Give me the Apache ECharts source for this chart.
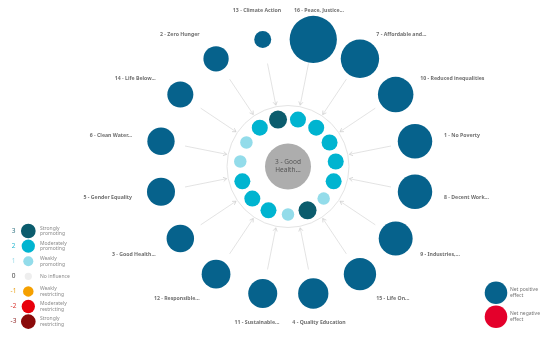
<!DOCTYPE html>
<html>
<head>
<meta charset="utf-8">
<script src="https://cdn.jsdelivr.net/npm/echarts@6/dist/echarts.min.js"></script>
<style>html,body{margin:0;padding:0;background:#fff}#c{width:550px;height:337px}</style>
</head>
<body>
<div id="c"></div>
<script>
// ---- data ----
const centerName = '3 - Good\nHealth...';
const outerNames = ['13 - Climate Action','16 - Peace, Justice...','7 - Affordable and...','10 - Reduced inequalities','1 - No Poverty','8 - Decent Work...','9 - Industries,...','15 - Life On...','4 - Quality Education','11 - Sustainable...','12 - Responsible...','3 - Good Health...','5 - Gender Equality','6 - Clean Water...','14 - Life Below...','2 - Zero Hunger'];
const outerNet = [8, 62, 41, 35, 33, 33, 32, 29, 25.5, 23.4, 23, 21, 21.8, 20.7, 18.8, 17.8];
const innerEffects = [3,2,2,2,2,2,1,3,1,2,2,2,1,1,2];
const legendLevels = [3,2,1,0,-1,-2,-3];
const legendTexts = ['Strongly\npromoting','Moderately\npromoting','Weakly\npromoting','No influence','Weakly\nrestricting','Moderately\nrestricting','Strongly\nrestricting'];
const netLegend = ['Net positive\neffect','Net negative\neffect'];

// ---- styles ----
const FONT = 'Noto Sans';
const effectColor = {'3':'#0b5c6d','2':'#00b4d0','1':'#93dcea','0':'#eeeeee','-1':'#f5a000','-2':'#e8000b','-3':'#8a0a0a'};
const effectNumColor = {'3':'#2c6f7e','2':'#22b5cf','1':'#9adbe8','0':'#444','-1':'#e8a21a','-2':'#d9302a','-3':'#8a1a1a'};
const effectSize = {'3':18,'2':16,'1':12.5};
const legendSize = {'3':14.7,'2':13.3,'1':10,'0':7.3,'-1':10.5,'-2':13.3,'-3':14.7};
const POS = '#06628c', NEG = '#e4002b';

const R_OUT = 129.5, R_LAB = 159, R_IN = 48, R_RING = 61, R_A0 = 105, R_A1 = 62.5;
const norm = a => ((a % 360) + 360) % 360;
const outStep = 360 / outerNames.length, inStep = 360 / innerEffects.length;
const outAngle = i => norm(-outStep / 2 + outStep * i);
const inAngle = i => norm(-inStep / 2 + inStep * i);

const outerData = outerNames.map((n, i) => ({name: n, value: [R_OUT, outAngle(i), outerNet[i]]}));
const labelData = outerNames.map((n, i) => {
  const a = outAngle(i);
  let align = 'center';
  if (a > 20 && a < 160) align = 'left';
  else if (a > 200 && a < 340) align = 'right';
  return {name: n, value: [R_LAB, a], label: {align: align}};
});
const innerData = innerEffects.map((e, i) => ({value: [R_IN, inAngle(i), e], itemStyle: {color: effectColor[String(e)], opacity: 1}}));
const arrowData = outerNames.map((n, i) => [R_A0, outAngle(i), R_A1]);

const chart = echarts.init(document.getElementById('c'));

const graphics = [];
legendLevels.forEach((lv, i) => {
  const y = 231 + i * 15.1;
  graphics.push({type:'text', x: 13.5, y: y, style:{text: String(lv), fill: effectNumColor[String(lv)], font: '6.5px "Noto Sans"', textAlign:'center', textVerticalAlign:'middle'}});
  graphics.push({type:'circle', shape:{cx: 28.3, cy: y, r: legendSize[String(lv)]/2}, style:{fill: effectColor[String(lv)]}});
  graphics.push({type:'text', x: 40, y: y, style:{text: legendTexts[i], fill:'#8a8a8a', font:'5px "Noto Sans"', textAlign:'left', textVerticalAlign:'middle', lineHeight: 5.8}});
});
[POS, NEG].forEach((c, i) => {
  const y = 292.7 + i * 24;
  graphics.push({type:'circle', shape:{cx: 496, cy: y, r: 11.3}, style:{fill: c}});
  graphics.push({type:'text', x: 510, y: y, style:{text: netLegend[i], fill:'#777', font:'5px "Noto Sans"', textAlign:'left', textVerticalAlign:'middle', lineHeight: 6}});
});

chart.setOption({
  animation: false,
  backgroundColor: '#fff',
  polar: {center: [288, 166.5], radius: 160},
  angleAxis: {type:'value', min:0, max:360, startAngle:90, clockwise:true, show:false},
  radiusAxis: {type:'value', min:0, max:160, show:false},
  graphic: graphics,
  series: [
    {
      type:'custom', coordinateSystem:'polar', silent:true, z:1,
      data:[[R_RING, 0]],
      renderItem: function(params, api){
        const c = api.coord([0, 0]);
        const p = api.coord([api.value(0), 0]);
        const r = Math.hypot(p[0]-c[0], p[1]-c[1]);
        return {type:'circle', shape:{cx:c[0], cy:c[1], r:r}, style:{fill:null, stroke:'#e4e4e4', lineWidth:1}};
      }
    },
    {
      type:'custom', coordinateSystem:'polar', silent:true, z:1,
      data: arrowData,
      renderItem: function(params, api){
        const p1 = api.coord([api.value(0), api.value(1)]);
        const p2 = api.coord([api.value(2), api.value(1)]);
        const dx = p2[0]-p1[0], dy = p2[1]-p1[1], L = Math.hypot(dx, dy);
        const ux = dx/L, uy = dy/L, al = 4, t = 0.55;
        const rot = (s) => {
          const c = Math.cos(s*t), sn = Math.sin(s*t);
          return [p2[0] - al*(ux*c - uy*sn), p2[1] - al*(ux*sn + uy*c)];
        };
        return {type:'group', children:[
          {type:'line', shape:{x1:p1[0], y1:p1[1], x2:p2[0], y2:p2[1]}, style:{stroke:'#dcdcdc', lineWidth:0.8}},
          {type:'polyline', shape:{points:[rot(1), p2, rot(-1)]}, style:{stroke:'#d0d0d0', lineWidth:0.8, fill:null}}
        ]};
      }
    },
    {
      type:'scatter', coordinateSystem:'polar', z:3,
      data: outerData,
      symbolSize: v => 6 * Math.sqrt(v[2]),
      itemStyle:{color: POS, opacity: 1}
    },
    {
      type:'scatter', coordinateSystem:'polar', z:3,
      data: innerData,
      symbolSize: v => effectSize[String(v[2])],
      itemStyle:{opacity: 1}
    },
    {
      type:'scatter', coordinateSystem:'polar', z:3,
      data: [{name: centerName, value:[0, 0]}],
      symbolSize: 46,
      itemStyle:{color:'#adadad', opacity: 1},
      label:{show:true, position:'inside', formatter:'{b}', color:'#555', fontSize:6.5, fontFamily: FONT, lineHeight:8}
    },
    {
      type:'scatter', coordinateSystem:'polar', z:4,
      data: labelData,
      symbolSize: 0,
      itemStyle:{color:'transparent'},
      label:{show:true, position:'inside', formatter:'{b}', verticalAlign:'middle', color:'#4a4a4a', fontSize:5.2, fontWeight:'bold', fontFamily: FONT}
    }
  ]
});
</script>
</body>
</html>
